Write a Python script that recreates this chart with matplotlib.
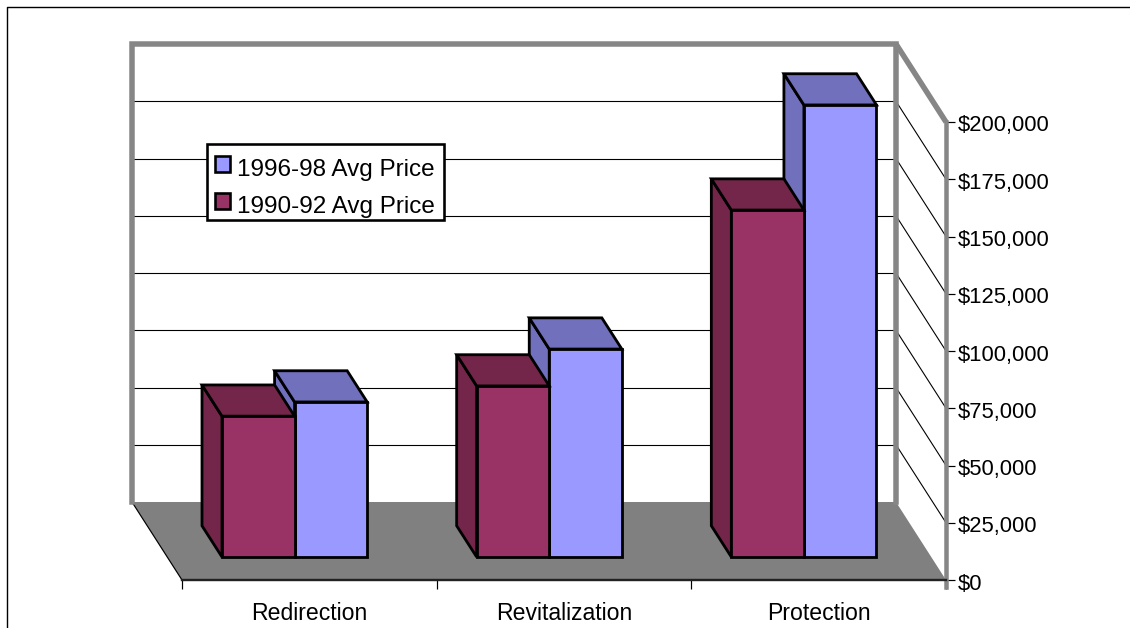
import numpy as np
import matplotlib
matplotlib.use('Agg')
import matplotlib.pyplot as plt
from matplotlib.lines import Line2D
from matplotlib.patches import Patch, Polygon
from matplotlib.transforms import ScaledTranslation

plt.rcParams['font.family'] = ['Liberation Sans', 'DejaVu Sans']

categories = ['Redirection', 'Revitalization', 'Protection']
price_9092 = [61500, 74700, 151500]
price_9698 = [67700, 90800, 197400]
value_ticks = [0, 25000, 50000, 75000, 100000, 125000, 150000, 175000, 200000]
value_labels = ['$0', '$25,000', '$50,000', '$75,000', '$100,000', '$125,000',
                '$150,000', '$175,000', '$200,000']

W, H = 1130, 628
px = 72 / 100  # points per pixel at dpi 100

# Oblique projection: a point at depth d moves up and to the left
DEPTH_X = -50 / (764 / 3)
DEPTH_Y = 78 / 458 * 200000
BAR_WIDTH = 0.285
BAR_FRONT, BAR_BACK = 0.295, 0.695

MAROON, MAROON_DK = '#993366', '#732649'
BLUE, BLUE_DK = '#9999FF', '#7070BC'
GRAY = '#868686'


def proj(x, v, d):
    return (x + DEPTH_X * d, v + DEPTH_Y * d)


def face(ax, pts, color, z, lw=2.8 * px, edge='black'):
    ax.add_patch(Polygon([proj(*p) for p in pts], closed=True, facecolor=color,
                         edgecolor=edge, lw=lw, joinstyle='miter', clip_on=False, zorder=z))


def bar3d(ax, x0, x1, v, front, side, z):
    f, b = BAR_FRONT, BAR_BACK
    face(ax, [(x0, 0, f), (x0, v, f), (x0, v, b), (x0, 0, b)], side, z)
    face(ax, [(x0, v, f), (x1, v, f), (x1, v, b), (x0, v, b)], side, z)
    face(ax, [(x0, 0, f), (x1, 0, f), (x1, v, f), (x0, v, f)], front, z)


fig = plt.figure(figsize=(W / 100, H / 100), dpi=100)
ax = fig.add_axes([182 / W, 1 - 580 / H, 764 / W, 458 / H])
ax.set_xlim(0, 3)
ax.set_ylim(0, 200000)
ax.patch.set_visible(False)

# floor
face(ax, [(0, 0, 0), (3, 0, 0), (3, 0, 1), (0, 0, 1)], '#808080', 1, lw=0, edge='none')
a, b = proj(0, 0, 0), proj(0, 0, 1)
ax.plot([a[0], b[0]], [a[1], b[1]], color='black', lw=1.2 * px, clip_on=False, zorder=1.2)

# gridlines along back wall and right side wall
for v in value_ticks[1:-1]:
    a, b, c = proj(0, v, 1), proj(3, v, 1), proj(3, v, 0)
    ax.plot([a[0], b[0]], [a[1], b[1]], color='black', lw=1.1 * px, clip_on=False, zorder=1.5)
    ax.plot([b[0], c[0]], [b[1], c[1]], color='black', lw=1.1 * px, clip_on=False, zorder=1.5)

# gray wall frame
corners = [proj(0, 0, 1), proj(0, 200000, 1), proj(3, 200000, 1), proj(3, 0, 1)]
ax.plot(*zip(*corners), color=GRAY, lw=5.5 * px, solid_joinstyle='miter',
        solid_capstyle='projecting', clip_on=False, zorder=1.8)
a, b = proj(3, 200000, 1), proj(3, 200000, 0)
ax.plot([a[0], b[0]], [a[1], b[1]], color=GRAY, lw=5.5 * px, solid_capstyle='butt',
        clip_on=False, zorder=1.8)

# bars, back series first so the maroon one sits against it
for i in range(len(categories)):
    mid = i + 0.5
    bar3d(ax, mid, mid + BAR_WIDTH, price_9698[i], BLUE, BLUE_DK, 2 + i * 0.1)
    bar3d(ax, mid - BAR_WIDTH, mid, price_9092[i], MAROON, MAROON_DK, 2.05 + i * 0.1)

for s in ['left', 'top']:
    ax.spines[s].set_visible(False)
ax.spines['bottom'].set_color('#222222')
ax.spines['bottom'].set_linewidth(2.4 * px)
ax.spines['right'].set_color(GRAY)
ax.spines['right'].set_linewidth(4.5 * px)
ax.spines['right'].set_bounds(-3000, 200000)

ax.yaxis.tick_right()
ax.set_yticks(value_ticks)
ax.set_yticklabels(value_labels)
ax.tick_params(axis='y', length=9 * px, width=1.2 * px, color='black', pad=3 * px,
               labelsize=22 * px)
ax.set_xticks([0, 1, 2, 3])
ax.set_xticklabels([])
ax.set_xticks(np.arange(len(categories)) + 0.5, categories, minor=True)
ax.tick_params(axis='x', which='major', length=9 * px, width=1.2 * px, color='black')
ax.tick_params(axis='x', which='minor', length=0, pad=22 * px, labelsize=23 * px)

# value labels sit a little under their ticks
shift = ScaledTranslation(0, -1.5 / 100, fig.dpi_scale_trans)
for t in ax.get_yticklabels():
    t.set_transform(t.get_transform() + shift)

handles = [Patch(facecolor=BLUE, edgecolor='black', lw=2.6 * px, label='1996-98 Avg Price'),
           Patch(facecolor=MAROON, edgecolor='black', lw=2.6 * px, label='1990-92 Avg Price')]
leg = ax.legend(handles=handles, loc='upper left', bbox_to_anchor=(207 / W, 1 - 144 / H),
                bbox_transform=fig.transFigure, fontsize=24.2 * px, frameon=True, fancybox=False,
                framealpha=1, edgecolor='black', borderaxespad=0, borderpad=0.34,
                handlelength=0.62, handleheight=0.62, handletextpad=0.3, labelspacing=0.63)
leg.get_frame().set_linewidth(2.6 * px)
leg.set_zorder(5)
# nudge keys and labels down inside the box
for h in leg.legend_handles:
    h.set_y(h.get_y() - 3 * px)
for t in leg.get_texts():
    t.set_y(t.get_position()[1] - 7)

# outer chart border, open on the right and at the bottom
fig.add_artist(Line2D([7 / W, 7 / W, 1], [0, 1 - 7 / H, 1 - 7 / H], color='black', lw=1.4 * px))

fig.savefig('out.png', dpi=100)
